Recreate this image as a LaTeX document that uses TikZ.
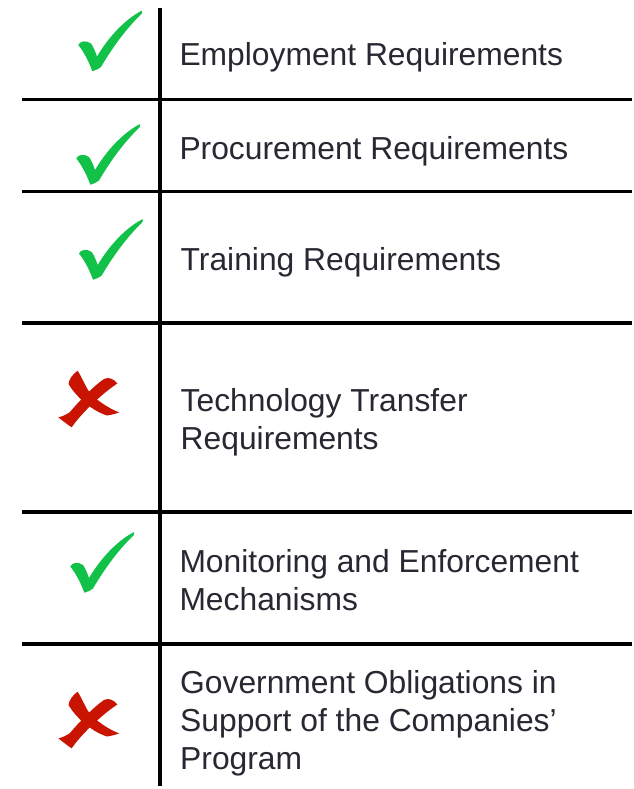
\documentclass[tikz,border=0pt]{standalone}
\usepackage{fontspec}
\setmainfont{Liberation Sans}
\definecolor{txt}{RGB}{40,40,50}
\definecolor{okgreen}{RGB}{18,194,72}
\definecolor{nored}{RGB}{200,20,0}
\newcommand{\stackl}[1]{\vtop{\baselineskip=38.3pt\halign{##\hfil\cr #1\crcr}}}
\tikzset{
  rule/.style={line width=3.5pt, black},
  rowtext/.style={anchor=base west, inner sep=0pt, text=txt,
    font=\fontsize{31.8pt}{38.3pt}\selectfont},
  checkpic/.pic={
    \fill[okgreen] (78.3,45)
      .. controls (80,41) and (86,40) .. (91,43.5)
      .. controls (93.5,47) and (95.5,52) .. (97,56.5)
      .. controls (108,38) and (124,20) .. (141.7,10.7)
      .. controls (142.5,11.5) and (142.3,12.5) .. (141.5,13.8)
      .. controls (124,31) and (111,50) .. (101,67)
      .. controls (97.5,69.5) and (95,70.5) .. (92.3,71.2)
      .. controls (89,62) and (84,52) .. (78.3,45) -- cycle;
  },
  crosspic/.pic={
    \fill[nored] (77.7,370.7)
      .. controls (73,374) and (69,379) .. (68.5,384)
      .. controls (75,395) and (90,410) .. (107,415.5)
      .. controls (111,415) and (116,413.5) .. (119.3,412.5)
      .. controls (110,409) and (95,400) .. (88,390)
      .. controls (84,383) and (81,376) .. (77.7,370.7) -- cycle;
    \fill[nored] (117.3,383.5)
      .. controls (113,378) and (108,377) .. (104,379)
      .. controls (95,385) and (80,400) .. (70,412)
      .. controls (66,415) and (62,416.5) .. (58.3,417.3)
      .. controls (63,421) and (68,425) .. (71.7,427.3)
      .. controls (80,415) and (100,395) .. (117.3,383.5) -- cycle;
  }
}
\begin{document}
\begin{tikzpicture}[x=1pt,y=-1pt]
\useasboundingbox[fill=white] (0,0) rectangle (633,789);
% grid
\coordinate (vtop) at (160,8);
\coordinate (vbot) at (160,786);
\draw[rule] (vtop) -- (vbot);
\foreach \yy/\nm in {99.5/a,191.5/b,323/c,512/d,644/e}{
  \coordinate (L\nm) at (22,\yy);
  \coordinate (R\nm) at (632,\yy);
  \draw[rule] (L\nm) -- (R\nm);
}
% texts
\node[rowtext] (t1) at (179.3,66) {Employment Requirements};
\node[rowtext] (t2) at (179.3,159) {Procurement Requirements};
\node[rowtext] (t3) at (180.5,270.5) {Training Requirements};
\node[rowtext] (t4) at (180.5,411.5) {\stackl{Technology Transfer\cr Requirements}};
\node[rowtext] (t5) at (179.3,572) {\stackl{Monitoring and Enforcement\cr Mechanisms}};
\node[rowtext] (t6) at (180,693) {\stackl{Government Obligations in\cr Support of the Companies’\cr Program}};
% marks
\pic at (0,0) {checkpic};
\pic at (-2,113.5) {checkpic};
\pic at (0.7,208.5) {checkpic};
\pic at (0,0) {crosspic};
\pic at (-8,521.5) {checkpic};
\pic at (0,321) {crosspic};
\end{tikzpicture}
\end{document}
